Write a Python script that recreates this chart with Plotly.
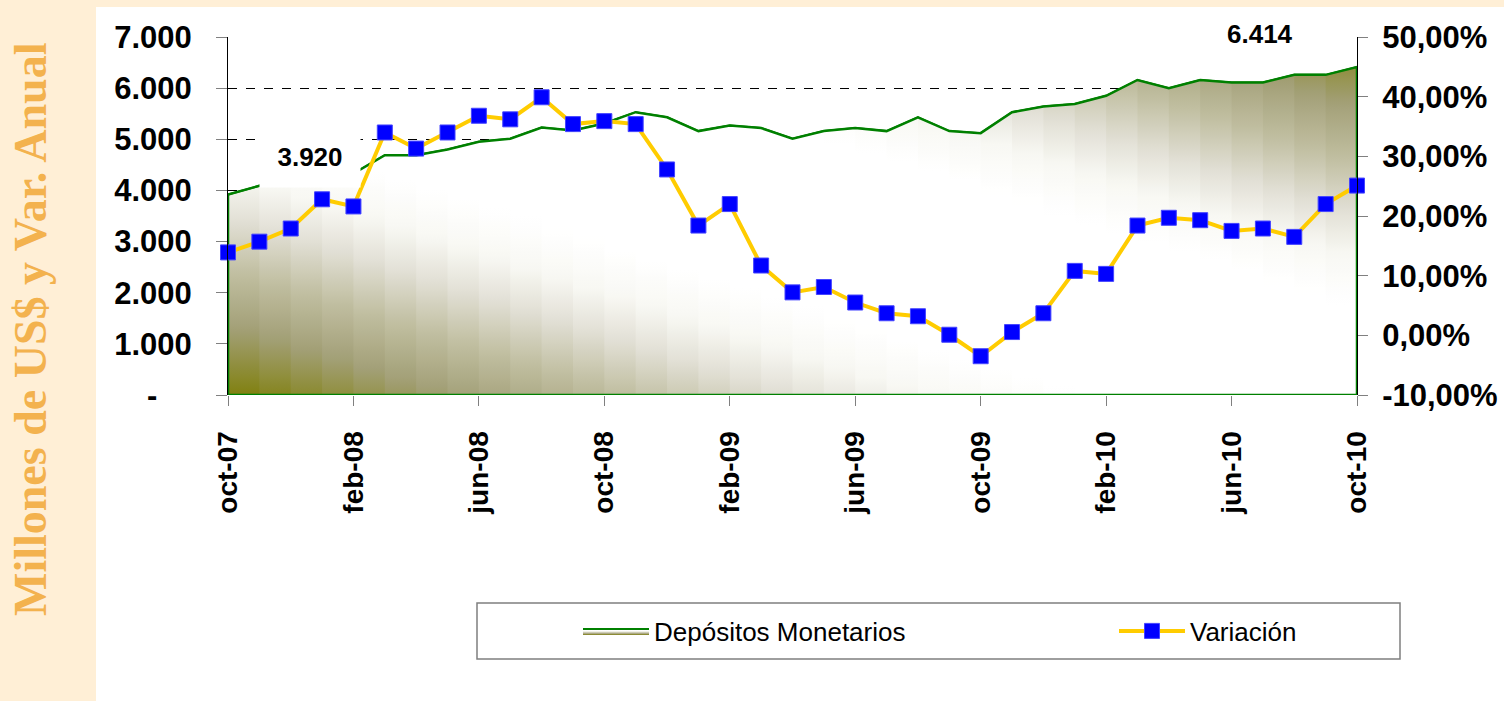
import numpy as np
import plotly.graph_objects as go

# ---- datos ----
meses = ["oct-07", "nov-07", "dic-07", "ene-08", "feb-08", "mar-08", "abr-08", "may-08",
         "jun-08", "jul-08", "ago-08", "sep-08", "oct-08", "nov-08", "dic-08", "ene-09",
         "feb-09", "mar-09", "abr-09", "may-09", "jun-09", "jul-09", "ago-09", "sep-09",
         "oct-09", "nov-09", "dic-09", "ene-10", "feb-10", "mar-10", "abr-10", "may-10",
         "jun-10", "jul-10", "ago-10", "sep-10", "oct-10"]

depositos = [3920, 4090, 4150, 4230, 4330, 4690, 4690, 4800, 4950, 5010, 5230, 5170,
             5310, 5530, 5430, 5160, 5270, 5220, 5010, 5160, 5220, 5160, 5430, 5160,
             5120, 5530, 5640, 5690, 5850, 6160, 6000, 6160, 6110, 6110, 6260, 6260, 6414]

variacion = [13.9, 15.7, 17.9, 22.8, 21.6, 34.0, 31.3, 34.0, 36.8, 36.2, 39.9, 35.4,
             35.9, 35.4, 27.8, 18.4, 22.0, 11.7, 7.2, 8.1, 5.5, 3.7, 3.2, 0.1,
             -3.5, 0.55, 3.7, 10.8, 10.3, 18.4, 19.7, 19.3, 17.5, 17.9, 16.5, 22.0, 25.1]

ticks_x = meses[::4]
ticks_izq = [0, 1000, 2000, 3000, 4000, 5000, 6000, 7000]
etiquetas_izq = ["-\u00a0\u00a0\u00a0\u00a0", "1.000", "2.000", "3.000", "4.000", "5.000", "6.000", "7.000"]
ticks_der = [-10, 0, 10, 20, 30, 40, 50]
etiquetas_der = ["-10,00%", "0,00%", "10,00%", "20,00%", "30,00%", "40,00%", "50,00%"]

# ---- geometria de la pagina (px) ----
W, H = 1504, 701
L, R, T, B = 228, 1357, 37, 395


def px_x(p):
    return (p - L) / (R - L)


def px_y(p):
    return (B - p) / (B - T)


def fmt_miles(v):
    return f"{v:,.0f}".replace(",", ".")


# rampa blanco -> oliva (como el degradado diagonal de Excel)
RAMPA = [(0.0, "#FFFFFF"), (0.25, "#FFFFFF"), (0.38, "#F8F8F3"), (0.5, "#E2E0D6"),
         (0.65, "#C0BEA0"), (0.8, "#A3A078"), (1.0, "#7E7E08")]


def hex2rgb(h):
    return np.array([int(h[i:i + 2], 16) for i in (1, 3, 5)], dtype=float)


def color_rampa(d):
    d = min(max(d, 0.0), 1.0)
    for (p0, c0), (p1, c1) in zip(RAMPA[:-1], RAMPA[1:]):
        if d <= p1:
            f = (d - p0) / (p1 - p0)
            c = hex2rgb(c0) * (1 - f) + hex2rgb(c1) * f
            return "rgb(%d,%d,%d)" % tuple(np.round(c))
    return RAMPA[-1][1]


def escala_franja(u):
    vs = np.linspace(0, 1, 41)
    return [[float(v), color_rampa(abs(u + v - 1))] for v in vs]


fig = go.Figure()

n = len(meses) - 1
ymax = ticks_izq[-1]
for i in range(n):
    xs = meses[i:] + [meses[-1], meses[i]]
    ys = depositos[i:] + [0, 0]
    u = (i + 0.5) / n
    fig.add_trace(go.Scatter(
        x=xs, y=ys, mode="lines", fill="toself",
        fillgradient=dict(type="vertical", colorscale=escala_franja(u), start=0, stop=ymax),
        line=dict(width=2 if i == 0 else 0, color="#008000"),
        name="Depósitos Monetarios", showlegend=(i == 0), hoverinfo="skip",
        legend="legend",
    ))

# contorno verde del area
fig.add_trace(go.Scatter(
    x=[meses[0]] + meses + [meses[-1], meses[0]],
    y=[0] + depositos + [0, 0],
    mode="lines", line=dict(color="#008000", width=2.5),
    showlegend=False, hoverinfo="skip",
))

fig.add_trace(go.Scatter(
    x=meses, y=variacion, yaxis="y2", mode="lines+markers",
    line=dict(color="#FFCC00", width=4),
    marker=dict(symbol="square", size=15, color="#0000FF", line=dict(color="#4444FF", width=1)),
    name="Variación", cliponaxis=False, legend="legend2",
))

leyenda = dict(orientation="v", yanchor="middle", xanchor="left", y=px_y(631),
               bgcolor="rgba(0,0,0,0)", font=dict(size=26, color="black"), itemwidth=66)

fig.update_layout(
    width=W, height=H,
    paper_bgcolor="#FFEFD6", plot_bgcolor="white",
    margin=dict(l=L, r=W - R, t=T, b=H - B),
    font=dict(family="Liberation Sans, Arial, sans-serif", color="black"),
    showlegend=True,
    legend=dict(leyenda, x=px_x(578)),
    legend2=dict(leyenda, x=px_x(1114)),
    xaxis=dict(type="category", range=[0, n], tickmode="array", tickvals=ticks_x, ticktext=ticks_x,
               tickangle=-90, ticks="outside", ticklen=10, tickcolor="#808080",
               showgrid=False, showline=False, zeroline=False, automargin=False,
               tickfont=dict(size=28, family="Liberation Sans", color="black", weight="bold"),
               ticklabelstandoff=14),
    yaxis=dict(range=[0, ymax], tickmode="array", tickvals=ticks_izq, ticktext=etiquetas_izq,
               ticks="outside", ticklen=11, tickcolor="#808080", automargin=False,
               showgrid=True, gridcolor="black", gridwidth=1, griddash="dash",
               showline=True, linecolor="black", linewidth=1, zeroline=False,
               tickfont=dict(size=31, color="black", weight="bold"), ticklabelstandoff=18),
    yaxis2=dict(overlaying="y", side="right", range=[-10, 50], tickmode="array",
                tickvals=ticks_der, ticktext=etiquetas_der, automargin=False,
                ticks="outside", ticklen=10, tickcolor="#808080",
                showgrid=False, showline=True, linecolor="black", linewidth=1, zeroline=False,
                tickfont=dict(size=31, color="black", weight="bold"), ticklabelstandoff=8),
    shapes=[
        dict(type="rect", xref="paper", yref="paper", layer="below",
             x0=px_x(96), x1=px_x(W + 2), y0=px_y(7), y1=px_y(H + 2),
             fillcolor="white", line=dict(width=0)),
        dict(type="rect", xref="paper", yref="paper", layer="below",
             x0=px_x(477), x1=px_x(1400), y0=px_y(603), y1=px_y(659),
             fillcolor="white", line=dict(color="#7F7F7F", width=1.5)),
    ],
    annotations=[
        dict(text="Millones de US$ y Var. Anual", textangle=-90, xref="paper", yref="paper",
             x=px_x(30), y=px_y(330), showarrow=False, xanchor="center", yanchor="middle",
             font=dict(family="Liberation Serif, Times New Roman, serif", size=46,
                       color="#F3B24E", weight="bold")),
        dict(text=fmt_miles(depositos[0]), x=meses[0], y=depositos[0], xshift=82, yshift=38,
             showarrow=False, bgcolor="white", width=98, height=58,
             font=dict(size=26, color="black", weight="bold")),
        dict(text=fmt_miles(depositos[-1]), x=meses[-1], y=depositos[-1], xshift=-97, yshift=33,
             showarrow=False, font=dict(size=26, color="black", weight="bold")),
    ],
)

fig.write_html(
    "out.html",
    config={"displayModeBar": False},
    post_script="document.body.style.margin='0px';document.body.style.overflow='hidden';",
)
